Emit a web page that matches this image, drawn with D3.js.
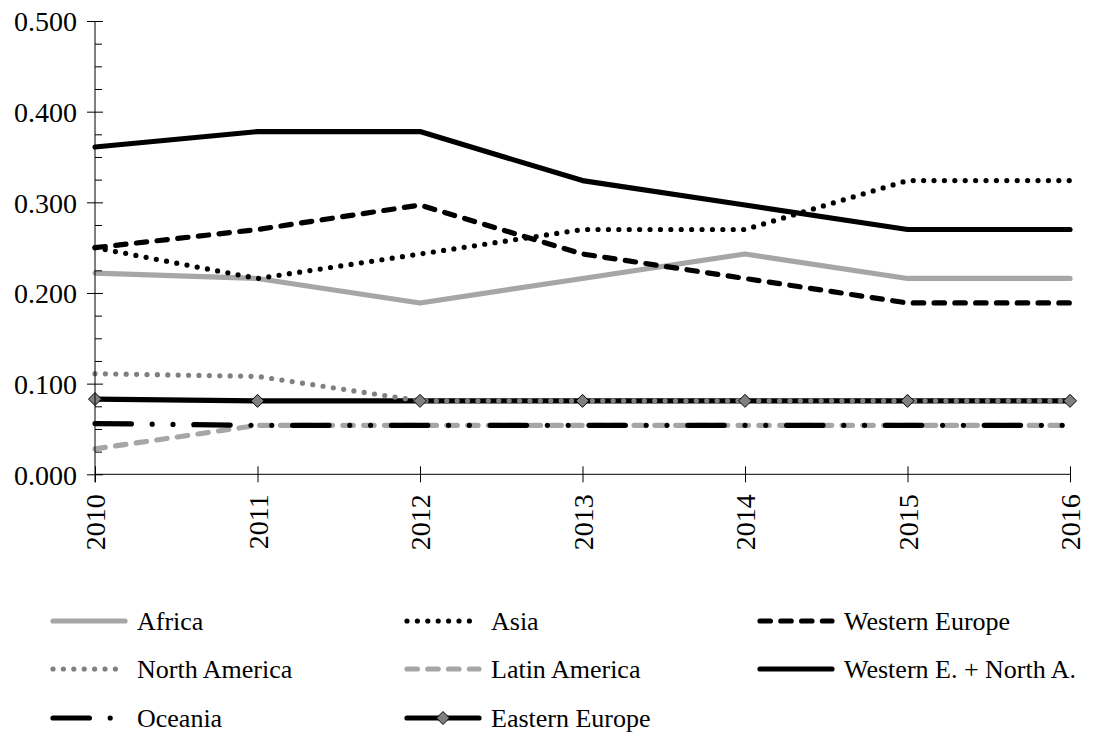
<!DOCTYPE html>
<html>
<head>
<meta charset="utf-8">
<script src="https://cdn.jsdelivr.net/npm/d3@7"></script>
<style>
  html, body { margin: 0; padding: 0; background: #fff; }
  svg, svg text { font-family: "Liberation Serif", "Times New Roman", Times, "DejaVu Serif", serif; }
  svg { display: block; }
</style>
</head>
<body>
<svg id="chart" width="1103" height="738"></svg>
<script>
const years = [2010, 2011, 2012, 2013, 2014, 2015, 2016];
const africa        = [0.222, 0.216, 0.189, 0.216, 0.243, 0.216, 0.216];
const asia          = [0.250, 0.216, 0.243, 0.270, 0.270, 0.324, 0.324];
const westernEurope = [0.250, 0.270, 0.297, 0.243, 0.216, 0.189, 0.189];
const northAmerica  = [0.111, 0.108, 0.081, 0.081, 0.081, 0.081, 0.081];
const latinAmerica  = [0.028, 0.054, 0.054, 0.054, 0.054, 0.054, 0.054];
const westernNorth  = [0.361, 0.378, 0.378, 0.324, 0.297, 0.270, 0.270];
const oceania       = [0.056, 0.054, 0.054, 0.054, 0.054, 0.054, 0.054];
const easternEurope = [0.083, 0.081, 0.081, 0.081, 0.081, 0.081, 0.081];
const yMajorTicks = [0, 0.1, 0.2, 0.3, 0.4, 0.5];

const W = 5.2;
const FONT = "'Liberation Serif', 'Times New Roman', Times, 'DejaVu Serif', serif";
const series = [
  {name: "Africa", values: africa, color: "#a6a6a6", dash: null, order: 1},
  {name: "Asia", values: asia, color: "#000000", dash: `0 ${2*W}`, order: 2},
  {name: "Western Europe", values: westernEurope, color: "#000000", dash: `${2*W} ${2*W}`, order: 3},
  {name: "North America", values: northAmerica, color: "#808080", dash: `0 ${2*W}`, order: 4},
  {name: "Latin America", values: latinAmerica, color: "#a6a6a6", dash: `${2*W} ${2*W}`, order: 5},
  {name: "Western E. + North A.", values: westernNorth, color: "#000000", dash: null, order: 6},
  {name: "Oceania", values: oceania, color: "#000000", dash: `${7*W} ${4*W} 0 ${4*W} 0 ${4*W}`, order: 7},
  {name: "Eastern Europe", values: easternEurope, color: "#000000", dash: null, marker: true, order: 0}
];

const svg = d3.select("#chart");
const x = d3.scaleLinear().domain([2010, 2016]).range([95, 1070]);
const y = d3.scaleLinear().domain([0, 0.5]).range([474.3, 21]);

// Lines
const line = d3.line()
  .x((d, i) => x(years[i]))
  .y(d => y(d))
  .curve(d3.curveLinear);

const drawOrder = series.slice().sort((a, b) => a.order - b.order);
const linesG = svg.append("g");
drawOrder.forEach(s => {
  linesG.append("path")
    .datum(s.values)
    .attr("d", line)
    .attr("fill", "none")
    .attr("stroke", s.color)
    .attr("stroke-width", W)
    .attr("stroke-linecap", "round")
    .attr("stroke-linejoin", "round")
    .attr("stroke-dasharray", s.dash);
});

// Diamond markers
const diamond = (cx, cy, r) => `M${cx},${cy - r}L${cx + r},${cy}L${cx},${cy + r}L${cx - r},${cy}Z`;
series.filter(s => s.marker).forEach(s => {
  svg.append("g").selectAll("path")
    .data(s.values)
    .join("path")
    .attr("d", (d, i) => diamond(x(years[i]), y(d), 6.5))
    .attr("fill", "#808080")
    .attr("stroke", "#000")
    .attr("stroke-width", 1);
});

// Y axis (major)
const yAxisG = svg.append("g")
  .attr("transform", `translate(${x(2010)},0)`)
  .call(d3.axisLeft(y).tickValues(yMajorTicks).tickSize(8).tickPadding(10).tickFormat(d3.format(".3f")));
yAxisG.attr("font-family", FONT).attr("font-size", 28);
yAxisG.selectAll(".tick line").attr("x1", 8).attr("x2", -8).attr("stroke", "#000");
yAxisG.select(".domain").attr("d", `M0,${y(0.5)}V${y(0) + 8}`).attr("stroke", "#000");
yAxisG.selectAll(".tick text")
  .style("font-family", FONT)
  .style("font-size", "28px")
  .attr("fill", "#000")
  .attr("x", -18)
  .attr("dy", "0.35em");

// Y axis minor ticks
const minorTicks = d3.range(0, 0.5001, 0.025).filter(v => Math.abs(v * 10 - Math.round(v * 10)) > 1e-6);
const yMinorG = svg.append("g")
  .attr("transform", `translate(${x(2010)},0)`)
  .call(d3.axisRight(y).tickValues(minorTicks).tickSize(7).tickFormat(""));
yMinorG.select(".domain").remove();
yMinorG.selectAll(".tick line").attr("stroke", "#000");

// X axis
const xAxisG = svg.append("g")
  .attr("transform", `translate(0,${y(0)})`)
  .call(d3.axisBottom(x).tickValues(years).tickSize(8).tickFormat(d3.format("d")));
xAxisG.attr("font-family", FONT).attr("font-size", 28);
xAxisG.selectAll(".tick line").attr("y1", -8).attr("y2", 8).attr("stroke", "#000");
xAxisG.select(".domain").attr("d", `M${x(2010)},0H${x(2016)}`).attr("stroke", "#000");
xAxisG.selectAll(".tick text")
  .style("font-family", FONT)
  .style("font-size", "28px")
  .attr("fill", "#000")
  .attr("transform", "rotate(-90)")
  .attr("text-anchor", "end")
  .attr("x", -20)
  .attr("y", 0)
  .attr("dy", "0.35em");

// Legend
const legendCols = [53, 407, 760];
const legendRows = [621, 669, 718];
const sampleLen = 72;
const legend = svg.append("g");
series.forEach((s, i) => {
  const cx = legendCols[i % 3];
  const cy = legendRows[Math.floor(i / 3)];
  const g = legend.append("g").attr("transform", `translate(${cx},${cy})`);
  g.append("line")
    .attr("x1", 0).attr("x2", sampleLen)
    .attr("y1", 0).attr("y2", 0)
    .attr("stroke", s.color)
    .attr("stroke-width", W)
    .attr("stroke-linecap", "round")
    .attr("stroke-dasharray", s.dash);
  if (s.marker) {
    g.append("path")
      .attr("d", diamond(sampleLen / 2, 0, 6.5))
      .attr("fill", "#808080")
      .attr("stroke", "#000")
      .attr("stroke-width", 1);
  }
  g.append("text")
    .attr("x", sampleLen + 12)
    .attr("y", 0)
    .attr("dy", "0.33em")
    .style("font-family", FONT)
    .style("font-size", "26px")
    .attr("fill", "#000")
    .text(s.name);
});
</script>
</body>
</html>
